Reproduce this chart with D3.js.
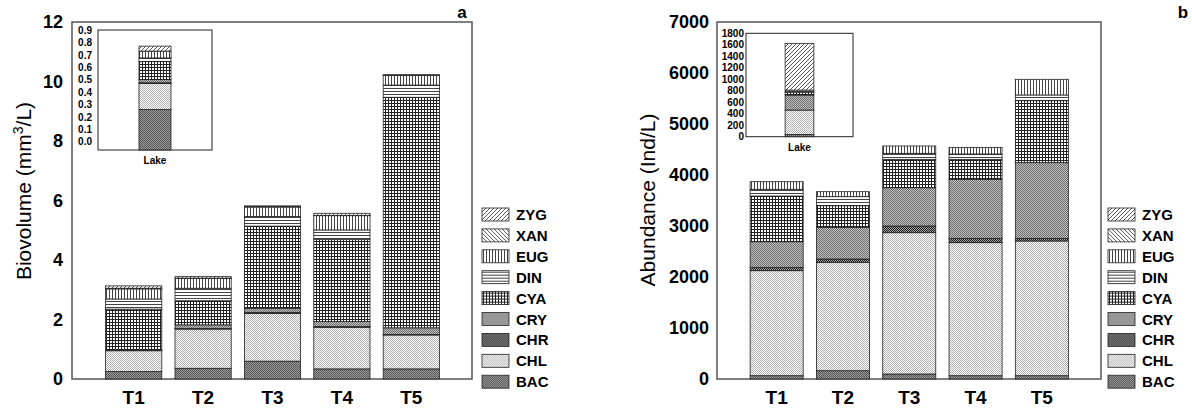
<!DOCTYPE html>
<html lang="en">
<meta charset="utf-8">
<head>
<title>Phytoplankton biovolume and abundance</title>
<style>
  body { margin: 0; background: #fff; }
  text { font-family: Arial, "Liberation Sans", sans-serif; fill: #000; }
  .tick text { font-weight: bold; }
  .frame { fill: none; stroke: #555; stroke-width: 1.5px; }
  .inset-frame { fill: #fff; stroke: #222; stroke-width: 1px; }
  .seg { stroke: #222; stroke-width: 0.8px; }
</style>
</head>
<body>
<svg width="1192" height="409"></svg>
<script src="https://cdn.jsdelivr.net/npm/d3@7"></script>
<script>

// groups, bottom of the stack first
var stackGroups = ["BAC", "CHL", "CHR", "CRY", "CYA", "DIN", "EUG", "XAN", "ZYG"];
var legendGroups = ["ZYG", "XAN", "EUG", "DIN", "CYA", "CRY", "CHR", "CHL", "BAC"];
var treatments = ["T1", "T2", "T3", "T4", "T5"];

// biovolume (mm3/L), values in stackGroups order
var bioT1 = [0.25, 0.70, 0.01, 0.01, 1.38, 0.34, 0.34, 0.02, 0.08];
var bioT2 = [0.36, 1.32, 0.02, 0.12, 0.81, 0.42, 0.33, 0.01, 0.05];
var bioT3 = [0.60, 1.60, 0.04, 0.14, 2.76, 0.32, 0.32, 0.02, 0.02];
var bioT4 = [0.34, 1.40, 0.02, 0.17, 2.77, 0.31, 0.48, 0.01, 0.07];
var bioT5 = [0.34, 1.14, 0.02, 0.22, 7.75, 0.41, 0.32, 0.01, 0.02];
var bioLake = [0.26, 0.21, 0.005, 0.025, 0.145, 0.03, 0.055, 0, 0.04];

// abundance (Ind/L)
var abuT1 = [65, 2059, 66, 502, 896, 132, 149, 0, 0];
var abuT2 = [163, 2125, 65, 621, 424, 177, 98, 0, 0];
var abuT3 = [98, 2771, 131, 751, 556, 118, 144, 0, 0];
var abuT4 = [65, 2608, 85, 1157, 392, 105, 130, 0, 0];
var abuT5 = [65, 2641, 52, 1484, 1215, 112, 307, 0, 0];
var abuLake = [40, 424, 0, 261, 50, 37, 0, 0, 813];

var bioTicks = [0, 2, 4, 6, 8, 10, 12];
var abuTicks = [0, 1000, 2000, 3000, 4000, 5000, 6000, 7000];
var bioLakeTicks = [0, 0.1, 0.2, 0.3, 0.4, 0.5, 0.6, 0.7, 0.8, 0.9];
var abuLakeTicks = [0, 200, 400, 600, 800, 1000, 1200, 1400, 1600, 1800];

function toRows(names, arrays) {
  return names.map(function(n, i) {
    var row = {name: n};
    stackGroups.forEach(function(g, j) { row[g] = arrays[i][j]; });
    return row;
  });
}

var svg = d3.select("svg");
var defs = svg.append("defs");

// fill patterns, one per group
function pattern(id, w, h, draw) {
  var p = defs.append("pattern").attr("id", "p-" + id)
      .attr("patternUnits", "userSpaceOnUse")
      .attr("width", w).attr("height", h);
  p.append("rect").attr("width", w).attr("height", h).attr("fill", "#fff");
  draw(p);
}
function checker(id, a, b) {
  pattern(id, 2, 2, function(p) {
    p.append("rect").attr("width", 2).attr("height", 2).attr("fill", b);
    p.append("rect").attr("width", 1).attr("height", 1).attr("fill", a);
    p.append("rect").attr("x", 1).attr("y", 1).attr("width", 1).attr("height", 1).attr("fill", a);
  });
}
pattern("ZYG", 4, 4, function(p) {
  p.append("path").attr("d", "M-1,1L1,-1M0,4L4,0M3,5L5,3").attr("stroke", "#444").attr("stroke-width", 0.9);
});
pattern("XAN", 4, 4, function(p) {
  p.append("path").attr("d", "M-1,3L1,5M0,0L4,4M3,-1L5,1").attr("stroke", "#444").attr("stroke-width", 0.9);
});
pattern("EUG", 3, 3, function(p) {
  p.append("rect").attr("x", 1).attr("width", 1).attr("height", 3).attr("fill", "#444");
});
pattern("DIN", 3, 3, function(p) {
  p.append("rect").attr("y", 1).attr("width", 3).attr("height", 1).attr("fill", "#444");
});
pattern("CYA", 3, 3, function(p) {
  p.append("rect").attr("x", 1).attr("width", 1).attr("height", 3).attr("fill", "#222");
  p.append("rect").attr("y", 1).attr("width", 3).attr("height", 1).attr("fill", "#222");
});
checker("CRY", "#6e6e6e", "#c0c0c0");
checker("CHR", "#1a1a1a", "#a8a8a8");
checker("CHL", "#b0b0b0", "#ffffff");
checker("BAC", "#555555", "#9c9c9c");

var stack = d3.stack().keys(stackGroups);

function drawStacks(g, rows, x, y, fromBottom) {
  var layers = g.selectAll(".layer")
    .data(stack(rows))
    .enter().append("g")
      .attr("class", "layer")
      .attr("fill", function(d) { return "url(#p-" + d.key + ")"; });
  layers.selectAll("rect")
    .data(function(d) { return d.filter(function(s) { return s[1] - s[0] > 0; }); })
    .enter().append("rect")
      .attr("class", "seg")
      .attr("x", function(d) { return x(d.data.name); })
      .attr("width", x.bandwidth())
      .attr("y", function(d) { return y(d[1]); })
      .attr("height", function(d) {
        var base = (fromBottom && d[0] === 0) ? y.range()[0] : y(d[0]);
        return base - y(d[1]);
      });
}

function panel(opt) {
  var x = d3.scaleBand().domain(treatments).range(opt.xr).paddingInner(opt.pad).paddingOuter(opt.pad / 2);
  var y = d3.scaleLinear().domain(opt.domain).range([379, 22]);

  svg.append("g")
      .attr("transform", "translate(" + opt.frame[0] + ",0)")
      .call(d3.axisLeft(y).tickValues(opt.ticks).tickFormat(d3.format("d")).tickSize(0).tickPadding(opt.tickPad))
      .call(function(a) { a.select(".domain").remove(); })
      .selectAll("text").style("font-size", "18px");

  svg.append("rect").attr("class", "frame")
      .attr("x", opt.frame[0]).attr("y", 22)
      .attr("width", opt.frame[1] - opt.frame[0]).attr("height", 357);

  drawStacks(svg.append("g"), toRows(treatments, opt.values), x, y, false);

  svg.append("g").selectAll("text")
    .data(treatments)
    .enter().append("text")
      .attr("x", function(d) { return x(d) + x.bandwidth() / 2; })
      .attr("y", 404)
      .attr("text-anchor", "middle")
      .style("font-size", "19px").style("font-weight", "bold")
      .text(function(d) { return d; });

  // inset for the lake
  var ix = d3.scaleBand().domain(["Lake"]).range(opt.inset.xr).paddingOuter(opt.inset.pad);
  var iy = d3.scaleLinear().domain(opt.inset.domain).range(opt.inset.yr);
  svg.append("rect").attr("class", "inset-frame")
      .attr("x", opt.inset.xr[0]).attr("y", opt.inset.yr[1])
      .attr("width", opt.inset.xr[1] - opt.inset.xr[0])
      .attr("height", opt.inset.yr[0] - opt.inset.yr[1]);
  svg.append("g")
      .attr("transform", "translate(" + opt.inset.xr[0] + ",0)")
      .call(d3.axisLeft(iy).tickValues(opt.inset.ticks).tickFormat(opt.inset.format).tickSize(0).tickPadding(opt.inset.tickPad))
      .call(function(a) { a.select(".domain").remove(); })
      .selectAll("text").style("font-size", "10px");
  drawStacks(svg.append("g"), toRows(["Lake"], [opt.inset.values]), ix, iy, true);
  svg.append("text")
      .attr("x", ix("Lake") + ix.bandwidth() / 2)
      .attr("y", opt.inset.yr[0] + 14)
      .attr("text-anchor", "middle")
      .style("font-size", "10px").style("font-weight", "bold")
      .text("Lake");

  // legend
  var lg = svg.append("g").selectAll("g")
    .data(legendGroups)
    .enter().append("g")
      .attr("transform", function(d, i) { return "translate(" + opt.legendX + "," + (208 + i * 20.9) + ")"; });
  lg.append("rect")
      .attr("class", "seg")
      .attr("width", 27).attr("height", 13)
      .attr("fill", function(d) { return "url(#p-" + d + ")"; });
  lg.append("text")
      .attr("x", 34).attr("y", 12)
      .style("font-size", "15px").style("font-weight", "bold")
      .text(function(d) { return d; });

  svg.append("text")
      .attr("x", opt.letter[0]).attr("y", opt.letter[1])
      .attr("text-anchor", "middle")
      .style("font-size", "17px").style("font-weight", "bold")
      .text(opt.letter[2]);
}

panel({
  xr: [99, 446], pad: 0.19, frame: [72, 472], domain: [0, 12], ticks: bioTicks, tickPad: 9,
  values: [bioT1, bioT2, bioT3, bioT4, bioT5],
  inset: {xr: [98, 212], yr: [150, 30], domain: [-0.067, 0.9], ticks: bioLakeTicks,
          format: d3.format(".1f"), tickPad: 6, pad: 1.28, values: bioLake},
  legendX: 482, letter: [462, 18, "a"]
});

panel({
  xr: [743.5, 1075], pad: 0.2, frame: [717, 1101], domain: [0, 7000], ticks: abuTicks, tickPad: 8,
  values: [abuT1, abuT2, abuT3, abuT4, abuT5],
  inset: {xr: [746, 853], yr: [136.7, 33.3], domain: [0, 1800], ticks: abuLakeTicks,
          format: d3.format("d"), tickPad: 2, pad: 1.36, values: abuLake},
  legendX: 1108, letter: [1183, 18, "b"]
});

// y axis titles
var t1 = svg.append("text")
    .attr("transform", "translate(31,191) rotate(-90)")
    .attr("text-anchor", "middle")
    .style("font-size", "21px");
t1.append("tspan").text("Biovolume (mm");
t1.append("tspan").attr("dy", -8).style("font-size", "14px").text("3");
t1.append("tspan").attr("dy", 8).text("/L)");

svg.append("text")
    .attr("transform", "translate(655,200) rotate(-90)")
    .attr("text-anchor", "middle")
    .style("font-size", "21px")
    .text("Abundance (Ind/L)");

</script>
</body>
</html>
